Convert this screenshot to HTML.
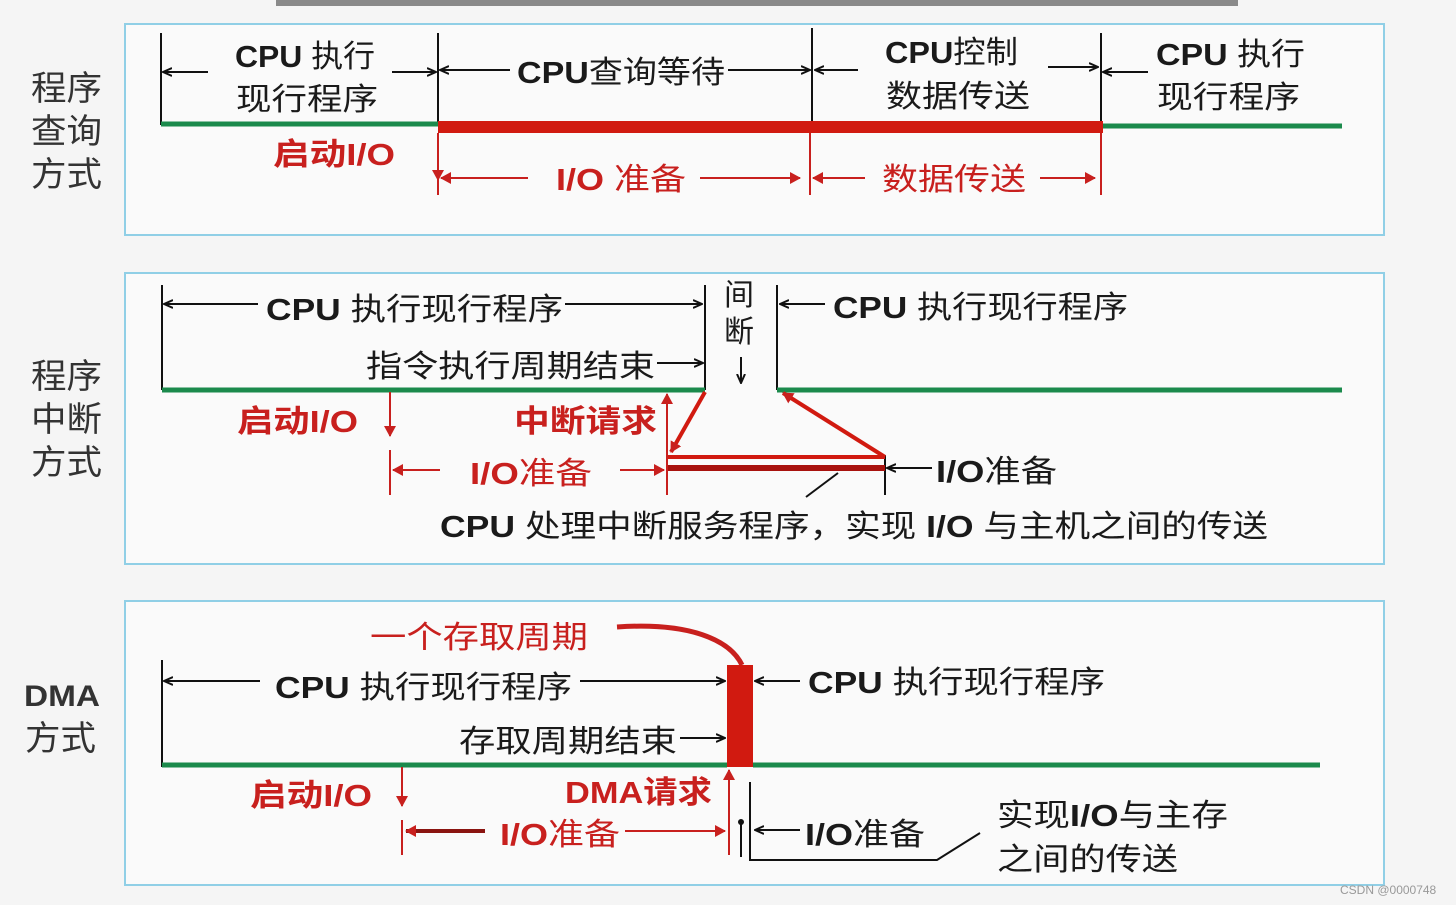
<!DOCTYPE html>
<html><head><meta charset="utf-8"><style>
html,body{margin:0;padding:0;background:#f5f5f5;}
svg{display:block}
text{font-family:"Liberation Sans","Noto Sans CJK SC",sans-serif;font-size:31px;fill:#1a1a1a}
.r{fill:#c8201e}
.b{font-weight:bold}
.lab{font-size:34px;fill:#333}
</style></head><body>
<svg width="1456" height="905" viewBox="0 0 1456 905" xmlns="http://www.w3.org/2000/svg">
<defs>
<marker id="ak" markerWidth="10" markerHeight="10" refX="9" refY="5" orient="auto" markerUnits="userSpaceOnUse"><path d="M0,1 L9,5 L0,9" fill="none" stroke="#111" stroke-width="2"/></marker>
<marker id="ar" markerWidth="12" markerHeight="12" refX="10" refY="6" orient="auto" markerUnits="userSpaceOnUse"><path d="M0,0 L11,6 L0,12 Z" fill="#c8201e"/></marker>
</defs>
<rect x="0" y="0" width="1456" height="905" fill="#f5f5f5"/>
<rect x="276" y="0" width="962" height="6" fill="#8a8a8a"/>
<g fill="#fafafa" stroke="#90cfe6" stroke-width="2">
<rect x="125" y="24" width="1259" height="211"/>
<rect x="125" y="273" width="1259" height="291"/>
<rect x="125" y="601" width="1259" height="284"/>
</g>
<!-- left labels -->
<text class="lab" x="31" y="100" textLength="71" lengthAdjust="spacingAndGlyphs">程序</text><text class="lab" x="31" y="143" textLength="71" lengthAdjust="spacingAndGlyphs">查询</text><text class="lab" x="31" y="186" textLength="71" lengthAdjust="spacingAndGlyphs">方式</text>
<text class="lab" x="31" y="388" textLength="71" lengthAdjust="spacingAndGlyphs">程序</text><text class="lab" x="31" y="431" textLength="71" lengthAdjust="spacingAndGlyphs">中断</text><text class="lab" x="31" y="474" textLength="71" lengthAdjust="spacingAndGlyphs">方式</text>
<text class="lab b" x="24" y="706" style="font-size:30px" textLength="76" lengthAdjust="spacingAndGlyphs">DMA</text><text class="lab" x="25" y="750" textLength="71" lengthAdjust="spacingAndGlyphs">方式</text>

<!-- BOX 1 -->
<g stroke="#111" stroke-width="2" fill="none">
<line x1="161" y1="33" x2="161" y2="125"/><line x1="438" y1="33" x2="438" y2="125"/>
<line x1="812" y1="28" x2="812" y2="125"/><line x1="1101" y1="33" x2="1101" y2="125"/>
<line x1="208" y1="72" x2="163" y2="72" marker-end="url(#ak)"/>
<line x1="392" y1="72" x2="436" y2="72" marker-end="url(#ak)"/>
<line x1="510" y1="70" x2="440" y2="70" marker-end="url(#ak)"/>
<line x1="728" y1="70" x2="810" y2="70" marker-end="url(#ak)"/>
<line x1="858" y1="70" x2="815" y2="70" marker-end="url(#ak)"/>
<line x1="1048" y1="67" x2="1098" y2="67" marker-end="url(#ak)"/>
<line x1="1148" y1="72" x2="1103" y2="72" marker-end="url(#ak)"/>
</g>
<line x1="161" y1="124" x2="438" y2="124" stroke="#1b8a4c" stroke-width="5"/>
<rect x="438" y="121" width="665" height="12" fill="#d11a10"/>
<line x1="1103" y1="126" x2="1342" y2="126" stroke="#1b8a4c" stroke-width="5"/>
<text x="235" y="67" textLength="140" lengthAdjust="spacingAndGlyphs"><tspan class="b">CPU</tspan> 执行</text>
<text x="236" y="110" textLength="142" lengthAdjust="spacingAndGlyphs">现行程序</text>
<text x="517" y="83" textLength="208" lengthAdjust="spacingAndGlyphs"><tspan class="b">CPU</tspan>查询等待</text>
<text x="885" y="63" textLength="133" lengthAdjust="spacingAndGlyphs"><tspan class="b">CPU</tspan>控制</text>
<text x="886" y="107" textLength="144" lengthAdjust="spacingAndGlyphs">数据传送</text>
<text x="1156" y="65" textLength="149" lengthAdjust="spacingAndGlyphs"><tspan class="b">CPU</tspan>  执行</text>
<text x="1157" y="108" textLength="143" lengthAdjust="spacingAndGlyphs">现行程序</text>
<g stroke="#c8201e" stroke-width="2" fill="none">
<line x1="438" y1="133" x2="438" y2="195"/><line x1="810" y1="133" x2="810" y2="195"/><line x1="1101" y1="133" x2="1101" y2="195"/>
<line x1="438" y1="133" x2="438" y2="180" marker-end="url(#ar)"/>
<line x1="528" y1="178" x2="441" y2="178" marker-end="url(#ar)"/>
<line x1="700" y1="178" x2="800" y2="178" marker-end="url(#ar)"/>
<line x1="865" y1="178" x2="813" y2="178" marker-end="url(#ar)"/>
<line x1="1040" y1="178" x2="1095" y2="178" marker-end="url(#ar)"/>
</g>
<text class="r b" x="273" y="165" textLength="122" lengthAdjust="spacingAndGlyphs">启动I/O</text>
<text class="r" x="556" y="190" textLength="130" lengthAdjust="spacingAndGlyphs"><tspan class="b">I/O</tspan> 准备</text>
<text class="r" x="882" y="190" textLength="144" lengthAdjust="spacingAndGlyphs">数据传送</text>

<!-- BOX 2 -->
<g stroke="#111" stroke-width="2" fill="none">
<line x1="162" y1="285" x2="162" y2="390"/><line x1="705" y1="285" x2="705" y2="390"/><line x1="777" y1="285" x2="777" y2="390"/>
<line x1="258" y1="304" x2="164" y2="304" marker-end="url(#ak)"/>
<line x1="565" y1="304" x2="702" y2="304" marker-end="url(#ak)"/>
<line x1="657" y1="363" x2="703" y2="363" marker-end="url(#ak)"/>
<line x1="825" y1="304" x2="780" y2="304" marker-end="url(#ak)"/>
<line x1="741" y1="357" x2="741" y2="383" marker-end="url(#ak)"/>
<line x1="885" y1="455" x2="885" y2="495"/>
<line x1="932" y1="468" x2="887" y2="468" marker-end="url(#ak)"/>
<line x1="806" y1="497" x2="838" y2="473"/>
</g>
<text x="724" y="305" style="font-size:30px">间</text>
<text x="724" y="342" style="font-size:30px">断</text>
<line x1="162" y1="390" x2="705" y2="390" stroke="#1b8a4c" stroke-width="5"/>
<line x1="777" y1="390" x2="1342" y2="390" stroke="#1b8a4c" stroke-width="5"/>
<text x="266" y="320" textLength="297" lengthAdjust="spacingAndGlyphs"><tspan class="b">CPU</tspan>  执行现行程序</text>
<text x="366" y="377" textLength="289" lengthAdjust="spacingAndGlyphs">指令执行周期结束</text>
<text x="833" y="318" textLength="295" lengthAdjust="spacingAndGlyphs"><tspan class="b">CPU</tspan>  执行现行程序</text>
<g stroke="#c8201e" stroke-width="2" fill="none">
<line x1="390" y1="392" x2="390" y2="436" marker-end="url(#ar)"/>
<line x1="390" y1="450" x2="390" y2="495"/>
<line x1="667" y1="495" x2="667" y2="394" marker-end="url(#ar)"/>
<line x1="440" y1="470" x2="393" y2="470" marker-end="url(#ar)"/>
<line x1="620" y1="470" x2="664" y2="470" marker-end="url(#ar)"/>
</g>
<g stroke="#d11a10" stroke-width="4" fill="none">
<line x1="705" y1="392" x2="671" y2="452" marker-end="url(#ar)"/>
<line x1="885" y1="457" x2="783" y2="393" marker-end="url(#ar)"/>
<line x1="668" y1="457" x2="885" y2="457"/>
</g>
<line x1="668" y1="468" x2="885" y2="468" stroke="#a8120e" stroke-width="6"/>
<text class="r b" x="237" y="432" textLength="121" lengthAdjust="spacingAndGlyphs">启动I/O</text>
<text class="r b" x="514" y="432" textLength="143" lengthAdjust="spacingAndGlyphs">中断请求</text>
<text class="r" x="470" y="484" textLength="122" lengthAdjust="spacingAndGlyphs"><tspan class="b">I/O</tspan>准备</text>
<text x="936" y="482" textLength="121" lengthAdjust="spacingAndGlyphs"><tspan class="b">I/O</tspan>准备</text>
<text x="440" y="537" textLength="828" lengthAdjust="spacingAndGlyphs"><tspan class="b">CPU</tspan> 处理中断服务程序，实现 <tspan class="b">I/O</tspan> 与主机之间的传送</text>

<!-- BOX 3 -->
<text class="r" x="370" y="648" textLength="218" lengthAdjust="spacingAndGlyphs">一个存取周期</text>
<path d="M617,627 C690,622 730,640 742,665" stroke="#c8201e" stroke-width="5" fill="none"/>
<g stroke="#111" stroke-width="2" fill="none">
<line x1="162" y1="660" x2="162" y2="767"/>
<line x1="260" y1="681" x2="164" y2="681" marker-end="url(#ak)"/>
<line x1="580" y1="681" x2="725" y2="681" marker-end="url(#ak)"/>
<line x1="800" y1="681" x2="755" y2="681" marker-end="url(#ak)"/>
<line x1="680" y1="738" x2="725" y2="738" marker-end="url(#ak)"/>
<line x1="741" y1="822" x2="741" y2="857"/>
<line x1="800" y1="830" x2="755" y2="830" marker-end="url(#ak)"/>
<polyline points="750,782 750,860 937,860 980,833"/>
</g>
<circle cx="741" cy="822" r="3" fill="#111"/>
<line x1="162" y1="765" x2="727" y2="765" stroke="#1b8a4c" stroke-width="5"/>
<line x1="753" y1="765" x2="1320" y2="765" stroke="#1b8a4c" stroke-width="5"/>
<rect x="727" y="665" width="26" height="102" fill="#d11a10"/>
<text x="275" y="698" textLength="297" lengthAdjust="spacingAndGlyphs"><tspan class="b">CPU</tspan>  执行现行程序</text>
<text x="808" y="693" textLength="297" lengthAdjust="spacingAndGlyphs"><tspan class="b">CPU</tspan>  执行现行程序</text>
<text x="459" y="752" textLength="218" lengthAdjust="spacingAndGlyphs">存取周期结束</text>
<g stroke="#c8201e" stroke-width="2" fill="none">
<line x1="402" y1="767" x2="402" y2="806" marker-end="url(#ar)"/>
<line x1="402" y1="820" x2="402" y2="855"/>
<line x1="729" y1="855" x2="729" y2="770" marker-end="url(#ar)"/>
<line x1="625" y1="831" x2="725" y2="831" marker-end="url(#ar)"/>
</g>
<line x1="485" y1="831" x2="406" y2="831" stroke="#8a1410" stroke-width="4" marker-end="url(#ar)"/>
<text class="r b" x="250" y="806" textLength="122" lengthAdjust="spacingAndGlyphs">启动I/O</text>
<text class="r b" x="565" y="803" textLength="147" lengthAdjust="spacingAndGlyphs">DMA请求</text>
<text class="r" x="500" y="845" textLength="120" lengthAdjust="spacingAndGlyphs"><tspan class="b">I/O</tspan>准备</text>
<text x="805" y="845" textLength="120" lengthAdjust="spacingAndGlyphs"><tspan class="b">I/O</tspan>准备</text>
<text x="997" y="826" textLength="231" lengthAdjust="spacingAndGlyphs">实现<tspan class="b">I/O</tspan>与主存</text>
<text x="997" y="870" textLength="181" lengthAdjust="spacingAndGlyphs">之间的传送</text>
<text x="1340" y="894" style="font-size:12px;fill:#999">CSDN @0000748</text>
</svg>
</body></html>
